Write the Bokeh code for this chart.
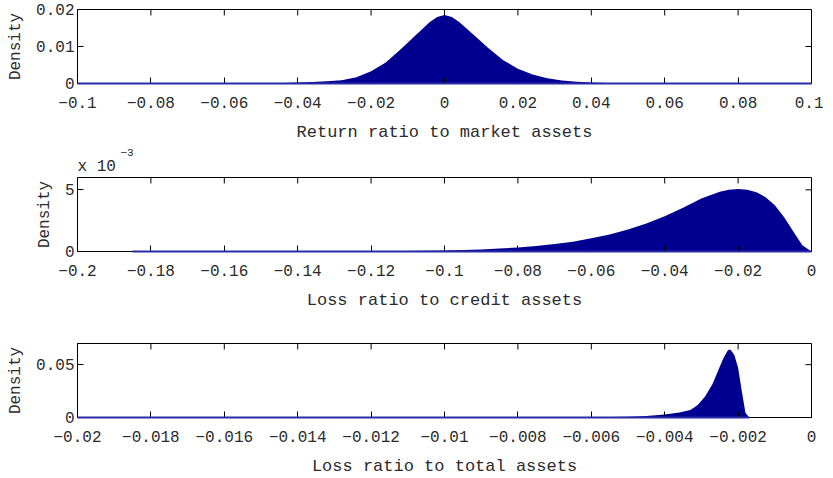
import math
from bokeh.plotting import figure
from bokeh.layouts import column
from bokeh.models import Range1d, FixedTicker, LinearAxis, Title
from bokeh.embed import file_html
from bokeh.resources import INLINE

# ---------------- data ----------------
# Panel 1: return ratio to market assets
ret_x = [-0.1, -0.08, -0.06, -0.056, -0.052, -0.048, -0.044, -0.04, -0.036, -0.032,
         -0.028, -0.024, -0.02, -0.016, -0.012, -0.008, -0.004, -0.002, 0.0, 0.002,
         0.004, 0.008, 0.012, 0.016, 0.02, 0.024, 0.028, 0.032, 0.036, 0.04,
         0.044, 0.048, 0.052, 0.06, 0.08, 0.1]
ret_density = [0.0, 0.00001, 0.00003, 0.00004, 0.00006, 0.0001, 0.00015, 0.00025, 0.0004, 0.0006,
               0.0009, 0.0017, 0.0033, 0.0057, 0.0092, 0.0129, 0.0166, 0.0180, 0.0185, 0.0180,
               0.0166, 0.0131, 0.0095, 0.0063, 0.0040, 0.0024, 0.0014, 0.0008, 0.00045, 0.00025,
               0.00014, 0.00008, 0.00005, 0.00002, 0.00001, 0.0]

# Panel 2: loss ratio to credit assets (density in units of 10^-3)
credit_x = [-0.185, -0.18, -0.16, -0.14, -0.12, -0.11, -0.10, -0.095, -0.09, -0.085,
            -0.08, -0.075, -0.07, -0.065, -0.06, -0.055, -0.05, -0.045, -0.04, -0.035,
            -0.03, -0.025, -0.0225, -0.02, -0.0175, -0.015, -0.0125, -0.01, -0.0075, -0.005,
            -0.0025, 0.0]
credit_density_e3 = [0.0, 0.005, 0.01, 0.015, 0.03, 0.05, 0.09, 0.12, 0.17, 0.24,
                     0.33, 0.45, 0.6, 0.8, 1.07, 1.38, 1.78, 2.28, 2.85, 3.55,
                     4.3, 4.85, 5.0, 5.06, 5.0, 4.8, 4.4, 3.75, 2.8, 1.65,
                     0.5, 0.0]

# Panel 3: loss ratio to total assets
total_x = [-0.02, -0.012, -0.008, -0.007, -0.006, -0.005, -0.0045, -0.004, -0.0036, -0.0033,
           -0.0031, -0.0029, -0.0027, -0.0025, -0.0024, -0.0023, -0.00225, -0.0022, -0.0021, -0.002,
           -0.0019, -0.0018, -0.0017]
total_density = [0.00002, 0.00005, 0.0001, 0.00015, 0.0003, 0.0008, 0.0014, 0.0028, 0.0048, 0.0072,
                 0.0118, 0.0199, 0.0315, 0.048, 0.056, 0.0625, 0.0644, 0.0638, 0.059, 0.047,
                 0.025, 0.0045, 0.0]

# ticks
ret_xticks = [-0.1, -0.08, -0.06, -0.04, -0.02, 0.0, 0.02, 0.04, 0.06, 0.08, 0.1]
ret_xlabels = ["\u22120.1", "\u22120.08", "\u22120.06", "\u22120.04", "\u22120.02", "0",
               "0.02", "0.04", "0.06", "0.08", "0.1"]
ret_yticks = [0.0, 0.01, 0.02]
ret_ylabels = ["0", "0.01", "0.02"]

credit_xticks = [-0.2, -0.18, -0.16, -0.14, -0.12, -0.1, -0.08, -0.06, -0.04, -0.02, 0.0]
credit_xlabels = ["\u22120.2", "\u22120.18", "\u22120.16", "\u22120.14", "\u22120.12", "\u22120.1",
                  "\u22120.08", "\u22120.06", "\u22120.04", "\u22120.02", "0"]
credit_yticks = [0, 5]
credit_ylabels = ["0", "5"]
credit_scale_text = "x 10"
credit_scale_exp = "\u22123"

total_xticks = [-0.02, -0.018, -0.016, -0.014, -0.012, -0.01, -0.008, -0.006, -0.004, -0.002, 0.0]
total_xlabels = ["\u22120.02", "\u22120.018", "\u22120.016", "\u22120.014", "\u22120.012", "\u22120.01",
                 "\u22120.008", "\u22120.006", "\u22120.004", "\u22120.002", "0"]
total_yticks = [0.0, 0.05]
total_ylabels = ["0", "0.05"]

FONT = "Liberation Mono"
TXT = "#2b2b2b"
FILL = "#000090"
EDGE = "#2a2aa8"


def make_panel(xr, yr, xs, ys, xticks, xlabels, yticks, ylabels, xlabel,
               border_top, border_bottom):
    p = figure(frame_width=734, frame_height=74, output_backend="svg",
               toolbar_location=None, x_range=Range1d(*xr), y_range=Range1d(*yr),
               min_border_left=77, min_border_right=12,
               min_border_top=border_top, min_border_bottom=border_bottom,
               x_axis_location=None, y_axis_location=None)
    p.grid.visible = False
    p.outline_line_color = "black"
    p.background_fill_color = "white"
    p.border_fill_color = "white"

    p.varea(x=xs, y1=[0] * len(xs), y2=ys, fill_color=FILL, fill_alpha=1.0)
    p.line(x=[xs[0], xs[-1]], y=[0, 0], line_color=EDGE, line_width=2, level="overlay")

    # mirrored inward ticks on the top and right edges of the box
    p.ray(x=xticks, y=[yr[1]] * len(xticks), length=6, length_units="screen",
          angle=-math.pi / 2, line_color="black", line_width=1)
    p.ray(x=[xr[1]] * len(yticks), y=yticks, length=6, length_units="screen",
          angle=math.pi, line_color="black", line_width=1)

    def style(ax):
        ax.major_tick_in = 6
        ax.major_tick_out = 0
        ax.minor_tick_line_color = None
        ax.axis_line_color = "black"
        ax.major_tick_line_color = "black"
        ax.major_label_text_font = FONT
        ax.major_label_text_color = TXT
        ax.major_label_text_font_size = "16px"
        ax.axis_label_text_font = FONT
        ax.axis_label_text_font_style = "normal"
        ax.axis_label_text_color = TXT
        ax.axis_label_text_font_size = "16px"

    xb = LinearAxis(ticker=FixedTicker(ticks=xticks),
                    major_label_overrides=dict(zip(xticks, xlabels)),
                    axis_label=xlabel)
    style(xb)
    xb.axis_label_text_font_size = "17px"
    xb.major_label_standoff = 13
    xb.axis_label_standoff = 12
    p.add_layout(xb, "below")

    yl = LinearAxis(ticker=FixedTicker(ticks=yticks),
                    major_label_overrides=dict(zip(yticks, ylabels)),
                    axis_label="Density")
    style(yl)
    yl.major_label_standoff = 3
    yl.axis_label_standoff = 8
    p.add_layout(yl, "left")
    return p


p1 = make_panel((-0.1, 0.1), (0, 0.02), ret_x, ret_density, ret_xticks, ret_xlabels,
                ret_yticks, ret_ylabels, "Return ratio to market assets", 9, 58)
p2 = make_panel((-0.2, 0.0), (0, 6), credit_x, credit_density_e3, credit_xticks, credit_xlabels,
                credit_yticks, credit_ylabels, "Loss ratio to credit assets", 33, 70)
p2.add_layout(Title(text=credit_scale_text, align="left", offset=0, standoff=4,
                    text_font=FONT, text_font_size="16px", text_font_style="normal",
                    text_color=TXT), "above")
p2.add_layout(Title(text=credit_scale_exp, align="left", offset=43, standoff=-5,
                    text_font=FONT, text_font_size="11px", text_font_style="normal",
                    text_color=TXT), "above")
p3 = make_panel((-0.02, 0.0), (0, 0.07), total_x, total_density, total_xticks, total_xlabels,
                total_yticks, total_ylabels, "Loss ratio to total assets", 22, 54)

layout = column(p1, p2, p3, spacing=0)
open("out.html", "w").write(file_html(layout, INLINE))
